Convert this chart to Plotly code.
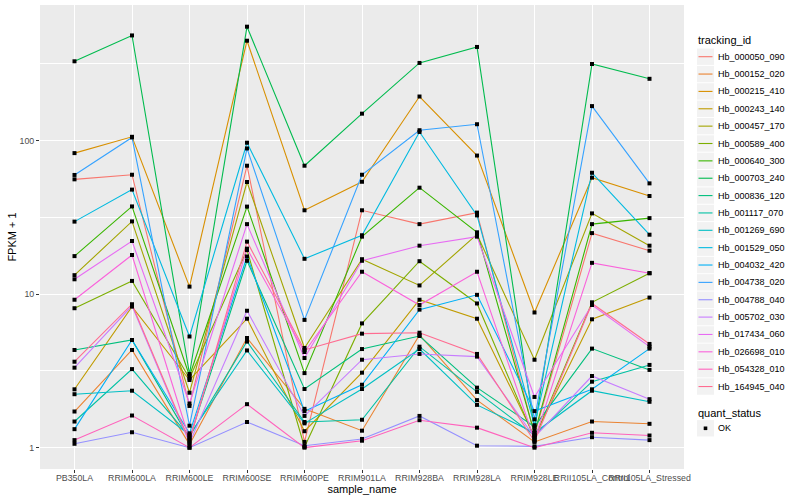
import plotly.graph_objects as go

samples = ["PB350LA", "RRIM600LA", "RRIM600LE", "RRIM600SE", "RRIM600PE", "RRIM901LA",
           "RRIM928BA", "RRIM928LA", "RRIM928LE", "RRII105LA_Control", "RRII105LA_Stressed"]

tracking_ids = ["Hb_000050_090", "Hb_000152_020", "Hb_000215_410", "Hb_000243_140",
                "Hb_000457_170", "Hb_000589_400", "Hb_000640_300", "Hb_000703_240",
                "Hb_000836_120", "Hb_001117_070", "Hb_001269_690", "Hb_001529_050",
                "Hb_004032_420", "Hb_004738_020", "Hb_004788_040", "Hb_005702_030",
                "Hb_017434_060", "Hb_026698_010", "Hb_054328_010", "Hb_164945_040"]

colors = ["#F8766D", "#EA8331", "#D89000", "#C09B00", "#A3A500", "#7CAE00", "#39B600",
          "#00BB4E", "#00BF7D", "#00C1A3", "#00BFC4", "#00BAE0", "#00B0F6", "#35A2FF",
          "#9590FF", "#C77CFF", "#E76BF3", "#FA62DB", "#FF62BC", "#FF6C91"]

quant_status = ["OK"]

# FPKM + 1 per sample (same order as samples)
hb_000050_090 = [56, 60, 1.87, 68.7, 1.09, 35.2, 28.6, 34, 1.21, 25, 19.2]
hb_000152_020 = [1.72, 4.33, 1.05, 5.18, 1.79, 1.29, 5.42, 2.04, 1.09, 1.48, 1.43]
hb_000215_410 = [83, 106, 11.2, 448, 35.2, 54, 194, 80, 7.6, 57.4, 43.6]
hb_000243_140 = [2.40, 8.3, 2.76, 6.92, 1.28, 3.08, 9.2, 6.92, 1.18, 6.86, 9.5]
hb_000457_170 = [13.3, 29.8, 2.28, 53.8, 4.46, 16.9, 11.4, 24.5, 3.74, 33.6, 20.7]
hb_000589_400 = [8.1, 12.2, 2.83, 19.4, 1.01, 6.45, 16.4, 8.7, 1.15, 8.85, 13.7]
hb_000640_300 = [17.7, 37.3, 2.93, 37.2, 3.06, 23.7, 49.4, 25.3, 1.24, 28.6, 31.3]
hb_000703_240 = [329, 485, 3.02, 553, 68.7, 150, 321, 408, 1.30, 316, 253]
hb_000836_120 = [4.33, 5.03, 1.15, 16.5, 2.41, 4.39, 5.34, 2.46, 1.37, 4.42, 3.21]
hb_001117_070 = [1.48, 3.25, 1.18, 4.91, 1.47, 1.52, 4.55, 2.31, 1.20, 2.69, 3.46]
hb_001269_690 = [2.23, 2.35, 1.21, 4.3, 1.44, 2.41, 4.39, 1.9, 1.25, 2.35, 1.99]
hb_001529_050 = [29.7, 48, 5.3, 97, 17, 24.2, 114, 32.6, 1.40, 61.8, 24.4]
hb_004032_420 = [1.32, 5.03, 1.24, 17.6, 1.73, 2.57, 7.93, 9.9, 1.73, 2.4, 4.42]
hb_004738_020 = [59.8, 105, 1.39, 89, 6.8, 60, 117, 128, 1.53, 168, 52.7]
hb_004788_040 = [1.06, 1.26, 1.0, 1.47, 1.03, 1.14, 1.61, 1.03, 1.02, 1.17, 1.12]
hb_005702_030 = [3.32, 8.4, 1.07, 7.8, 1.61, 3.74, 4.08, 3.92, 1.17, 2.93, 2.07]
hb_017434_060 = [12.5, 22.2, 1.94, 28.6, 3.84, 16.5, 20.7, 23.7, 2.14, 8.5, 4.55]
hb_026698_010 = [9.2, 18, 1.13, 19.8, 4.2, 14, 8.5, 14, 1.12, 16, 13.7]
hb_054328_010 = [1.12, 1.62, 1.0, 1.92, 1.0, 1.11, 1.51, 1.35, 1.0, 1.25, 1.2]
hb_164945_040 = [3.63, 8.6, 1.1, 22, 4.33, 5.53, 5.61, 4.08, 1.1, 8.7, 4.74]

series = [hb_000050_090, hb_000152_020, hb_000215_410, hb_000243_140, hb_000457_170,
          hb_000589_400, hb_000640_300, hb_000703_240, hb_000836_120, hb_001117_070,
          hb_001269_690, hb_001529_050, hb_004032_420, hb_004738_020, hb_004788_040,
          hb_005702_030, hb_017434_060, hb_026698_010, hb_054328_010, hb_164945_040]

y_ticks = [1, 10, 100]
y_ticktext = ["1", "10", "100"]
y_minor = [10 ** -0.5, 10 ** 0.5, 10 ** 1.5, 10 ** 2.5]

FONT = "Liberation Sans, Arial, sans-serif"
W, H = 800, 500
ML, MR, MT, MB = 40, 116, 5, 31
PW, PH = W - ML - MR, H - MT - MB


def px(x):
    return (x - ML) / PW


def py(y):
    return (H - MB - y) / PH


fig = go.Figure()
for name, col, vals in zip(tracking_ids, colors, series):
    fig.add_trace(go.Scatter(
        x=samples, y=vals, mode="lines", name=name, showlegend=False,
        line=dict(color=col, width=1.1)))

all_x, all_y = [], []
for vals in series:
    all_x.extend(samples)
    all_y.extend(vals)
fig.add_trace(go.Scatter(
    x=all_x, y=all_y, mode="markers", name=quant_status[0], showlegend=False,
    marker=dict(symbol="square", size=4, color="black")))

# ggplot-style legends (keys on grey boxes)
shapes, annotations = [], []
annotations.append(dict(text="tracking_id", x=px(696), y=py(40.5), xref="paper", yref="paper",
                        xanchor="left", yanchor="middle", showarrow=False,
                        font=dict(size=11, color="black")))
first_y, step = 56.7, 17.36
for i, (name, col) in enumerate(zip(tracking_ids, colors)):
    cy = first_y + i * step
    shapes.append(dict(type="rect", xref="paper", yref="paper",
                       x0=px(697), x1=px(714), y0=py(cy + 8.2), y1=py(cy - 8.2),
                       fillcolor="#F2F2F2", line=dict(width=0), layer="below"))
    shapes.append(dict(type="line", xref="paper", yref="paper",
                       x0=px(698.5), x1=px(712.5), y0=py(cy), y1=py(cy),
                       line=dict(color=col, width=1.1)))
    annotations.append(dict(text=name, x=px(716), y=py(cy), xref="paper", yref="paper",
                            xanchor="left", yanchor="middle", showarrow=False,
                            font=dict(size=9, color="black")))
annotations.append(dict(text="quant_status", x=px(696), y=py(412.5), xref="paper", yref="paper",
                        xanchor="left", yanchor="middle", showarrow=False,
                        font=dict(size=11, color="black")))
ok_y = 428.3
shapes.append(dict(type="rect", xref="paper", yref="paper",
                   x0=px(697), x1=px(714), y0=py(ok_y + 8.2), y1=py(ok_y - 8.2),
                   fillcolor="#F2F2F2", line=dict(width=0), layer="below"))
shapes.append(dict(type="rect", xref="paper", yref="paper",
                   x0=px(703.7), x1=px(707.3), y0=py(ok_y + 1.8), y1=py(ok_y - 1.8),
                   fillcolor="black", line=dict(width=0)))
annotations.append(dict(text=quant_status[0], x=px(716), y=py(ok_y), xref="paper", yref="paper",
                        xanchor="left", yanchor="middle", showarrow=False,
                        font=dict(size=9, color="black")))

fig.update_layout(
    width=W, height=H,
    margin=dict(l=ML, r=MR, t=MT, b=MB, autoexpand=False),
    paper_bgcolor="white", plot_bgcolor="#EBEBEB",
    font=dict(family=FONT, size=9, color="black"),
    showlegend=False, shapes=shapes, annotations=annotations,
    hovermode=False,
)
fig.update_xaxes(
    type="category", categoryorder="array", categoryarray=samples,
    range=[-0.6, 10.6], showgrid=True, gridcolor="white", gridwidth=1.1,
    zeroline=False, showline=False, ticks="outside", ticklen=3, tickcolor="#333333",
    tickangle=0, tickfont=dict(size=8.8, color="#4D4D4D"), automargin=False,
    ticklabelstandoff=-3,
    title=dict(text="sample_name", font=dict(size=11), standoff=1))
fig.update_yaxes(
    type="log", range=[-0.139, 2.884],
    tickvals=y_ticks, ticktext=y_ticktext,
    showgrid=True, gridcolor="white", gridwidth=1.1,
    minor=dict(tickvals=y_minor, showgrid=True, gridcolor="white", gridwidth=0.5, ticks=""),
    zeroline=False, showline=False, ticks="outside", ticklen=3, tickcolor="#333333",
    tickfont=dict(size=8.8, color="#4D4D4D"), automargin=False,
    title=dict(text="FPKM + 1", font=dict(size=11), standoff=0))

fig.write_html("out.html", config={"displayModeBar": False},
               post_script="document.body.style.margin='0px';")
